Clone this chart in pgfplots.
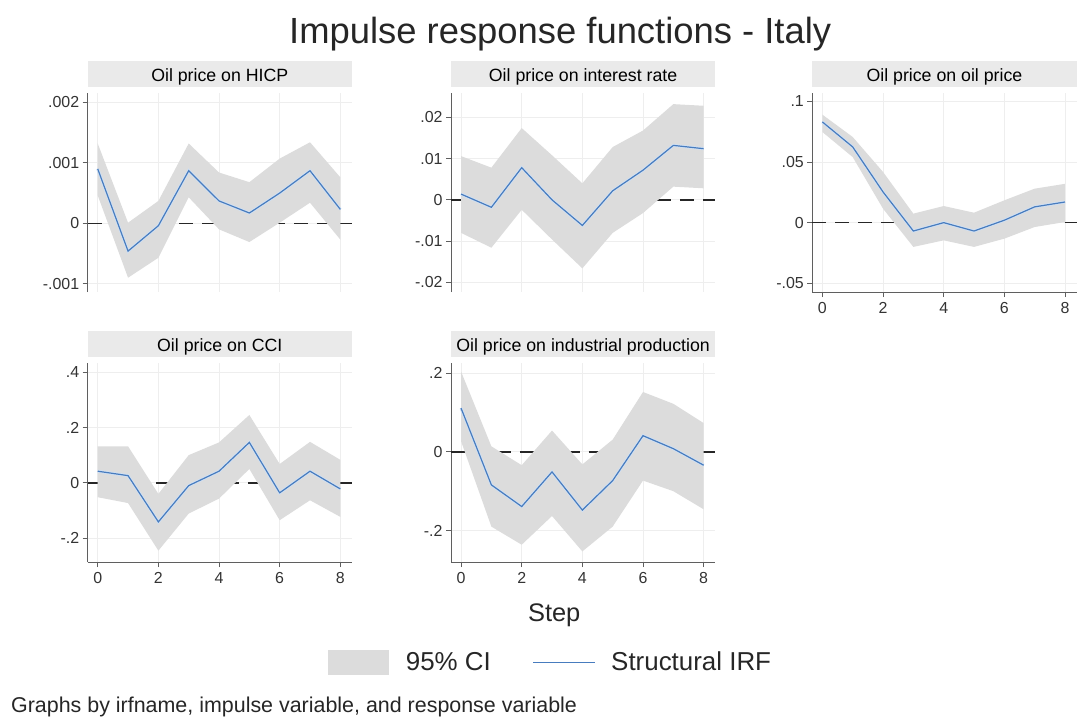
\documentclass[border=0pt]{standalone}
\usepackage{pgfplots}
\pgfplotsset{compat=1.18}
\usepgfplotslibrary{fillbetween}
\usepackage{pgfplotstable}
\usepackage{fontspec}
\setmainfont{Liberation Sans}

\definecolor{cifill}{RGB}{220,220,220}
\definecolor{irfblue}{RGB}{72,124,190}
\definecolor{halo}{RGB}{208,224,243}
\definecolor{strip}{RGB}{234,234,234}
\definecolor{axgray}{RGB}{95,95,95}
\definecolor{gridc}{RGB}{238,238,238}

\pgfplotstableread{
s irf lo hi
0 0.0009 0.00046 0.00132
1 -0.00046 -0.0009 0.00001
2 -0.00004 -0.00057 0.00037
3 0.00087 0.00043 0.00132
4 0.00037 -0.0001 0.00084
5 0.00017 -0.00031 0.00068
6 0.0005 0.00001 0.00107
7 0.00087 0.00034 0.00134
8 0.00023 -0.00027 0.00076
}\hicp

\pgfplotstableread{
s irf lo hi
0 0.0014 -0.008 0.0106
1 -0.0018 -0.0116 0.0078
2 0.0078 -0.0024 0.0174
3 0.0 -0.0096 0.0108
4 -0.0062 -0.0166 0.004
5 0.0022 -0.008 0.0128
6 0.0072 -0.0032 0.0168
7 0.0132 0.0032 0.0232
8 0.0124 0.0028 0.0228
}\irate

\pgfplotstableread{
s irf lo hi
0 0.083 0.0747 0.089
1 0.0624 0.054 0.0706
2 0.0253 0.0115 0.0418
3 -0.0069 -0.02 0.0074
4 0.0 -0.0146 0.0137
5 -0.0069 -0.02 0.0082
6 0.002 -0.0132 0.0184
7 0.013 -0.0036 0.028
8 0.017 0.0005 0.032
}\oil

\pgfplotstableread{
s irf lo hi
0 0.042 -0.052 0.132
1 0.026 -0.073 0.132
2 -0.141 -0.245 -0.04
3 -0.01 -0.111 0.10
4 0.042 -0.057 0.146
5 0.146 0.05 0.245
6 -0.036 -0.135 0.068
7 0.042 -0.063 0.148
8 -0.022 -0.123 0.083
}\cci

\pgfplotstableread{
s irf lo hi
0 0.111 0.027 0.204
1 -0.084 -0.19 0.014
2 -0.139 -0.236 -0.034
3 -0.051 -0.163 0.054
4 -0.148 -0.253 -0.032
5 -0.073 -0.19 0.031
6 0.041 -0.073 0.152
7 0.008 -0.1 0.122
8 -0.034 -0.146 0.073
}\indprod

\pgfplotsset{
  irfpanel/.style={
    set layers,
    scale only axis, width=265pt, height=200pt, anchor=south west,
    xmin=-0.33, xmax=8.38,
    axis lines*=left,
    axis line style={axgray, line width=1pt},
    tick align=outside,
    major tick length=5pt,
    tick style={axgray, line width=0.9pt},
    xtick={0,2,4,6,8},
    xticklabels={0,2,4,6,8},
    grid=major, grid style={gridc, line width=0.8pt},
    ticklabel style={font=\fontsize{16}{16}\selectfont, text=black!80},
    xticklabel style={yshift=-2pt},
    title style={at={(0.5,1)}, anchor=south, yshift=0pt, fill=strip,
      minimum width=265pt, minimum height=26pt, inner sep=0pt,
      text height=16.5pt, text depth=0pt, font=\fontsize{17.8}{17.8}\selectfont},
  },
  notopx/.style={x axis line style={draw=none}, xticklabel style={opacity=0}, xtick style={draw=none}},
}

% zero line, CI band and IRF line for one table
\newcommand{\irfplots}[2]{%
  \addplot[black!85, line width=1.4pt, dash pattern=on 14pt off 9pt, forget plot, on layer=pre main] coordinates {(-0.33,0) (8.38,0)};
  \addplot[name path=U#2, draw=none, forget plot] table[x=s,y=hi]{#1};
  \addplot[name path=L#2, draw=none, forget plot] table[x=s,y=lo]{#1};
  \addplot[cifill, draw=none, forget plot] fill between[of=U#2 and L#2];
  \addplot[halo, line width=3pt, forget plot] table[x=s,y=irf]{#1};
  \addplot[irfblue, line width=1.2pt, forget plot] table[x=s,y=irf]{#1};
}

\begin{document}
\begin{tikzpicture}

\node[anchor=base, font=\fontsize{36.5}{36.5}\selectfont, text=black!85] at (562pt,676.5pt) {Impulse response functions - Italy};

% Panel 1
\begin{axis}[irfpanel, notopx, at={(88pt,427pt)},
  title={Oil price on HICP},
  ymin=-0.001137, ymax=0.00216,
  ytick={-0.001,0,0.001,0.002}, yticklabels={-.001,0,.001,.002}]
\irfplots{\hicp}{a}
\end{axis}

% Panel 2
\begin{axis}[irfpanel, notopx, at={(452.5pt,427pt)},
  title={Oil price on interest rate},
  ymin=-0.02234, ymax=0.02597,
  ytick={-0.02,-0.01,0,0.01,0.02}, yticklabels={-.02,-.01,0,.01,.02}]
\irfplots{\irate}{b}
\end{axis}

% Panel 3
\begin{axis}[irfpanel, at={(815pt,427pt)},
  title={Oil price on oil price},
  ymin=-0.0572, ymax=0.1071,
  ytick={-0.05,0,0.05,0.1}, yticklabels={-.05,0,.05,.1}]
\irfplots{\oil}{c}
\end{axis}

% Panel 4
\begin{axis}[irfpanel, at={(88pt,156pt)},
  title={Oil price on CCI},
  ymin=-0.2865, ymax=0.4334,
  ytick={-0.2,0,0.2,0.4}, yticklabels={-.2,0,.2,.4}]
\irfplots{\cci}{d}
\end{axis}

% Panel 5
\begin{axis}[irfpanel, at={(452.5pt,156pt)},
  title={Oil price on industrial production},
  ymin=-0.2803, ymax=0.2261,
  ytick={-0.2,0,0.2}, yticklabels={-.2,0,.2}]
\irfplots{\indprod}{e}
\end{axis}

% x label
\node[anchor=base, font=\fontsize{25.5}{25.5}\selectfont, text=black!85] at (556pt,96.7pt) {Step};

% legend
\fill[cifill] (329pt,43pt) rectangle (390pt,68pt);
\node[anchor=base west, inner sep=0pt, font=\fontsize{26}{26}\selectfont, text=black!85] at (407pt,47pt) {95\% CI};
\draw[irfblue, line width=1.2pt] (535pt,55.5pt) -- (597pt,55.5pt);
\node[anchor=base west, inner sep=0pt, font=\fontsize{26}{26}\selectfont, text=black!85] at (613pt,47pt) {Structural IRF};

% note
\node[anchor=base west, inner sep=0pt, font=\fontsize{21.5}{21.5}\selectfont, text=black!85] at (11pt,5pt) {Graphs by irfname, impulse variable, and response variable};

\path[use as bounding box] (0pt,0pt) rectangle (1077pt,720pt);
\end{tikzpicture}
\end{document}
